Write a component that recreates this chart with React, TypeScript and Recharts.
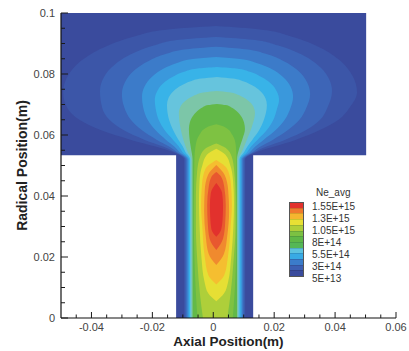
import { ComposedChart, Area, XAxis, YAxis, Legend } from 'recharts';

// each row: [radial y, axial x left, axial x right] of one contour band
type Row = [number, number, number];

const BASE: Row[] = [
  [0, -0.0122, 0.0131],
  [0.0534, -0.0122, 0.0131],
  [0.0534, -0.05, 0.0502],
  [0.1, -0.05, 0.0502],
];

const L1: Row[] = [
  [0, -0.0096, 0.0105], [0.052, -0.0096, 0.0105], [0.0545, -0.0135, 0.0145],
  [0.0562, -0.019, 0.02], [0.0584, -0.027, 0.027], [0.0616, -0.037, 0.035],
  [0.0649, -0.0438, 0.041], [0.069, -0.048, 0.0448], [0.074, -0.0493, 0.0472],
  [0.0794, -0.0477, 0.0457], [0.0849, -0.0426, 0.041], [0.0892, -0.0349, 0.034],
  [0.0924, -0.0256, 0.0253], [0.0946, -0.0148, 0.0153], [0.0957, 0.0009, 0.0009],
];

const L2: Row[] = [
  [0, -0.0092, 0.0102], [0.052, -0.0092, 0.0102], [0.0545, -0.0128, 0.0138],
  [0.0562, -0.0165, 0.0175], [0.0584, -0.0225, 0.0235], [0.0616, -0.0295, 0.0305],
  [0.0649, -0.034, 0.035], [0.069, -0.0365, 0.0375], [0.0744, -0.0372, 0.039],
  [0.0788, -0.036, 0.0378], [0.0833, -0.0321, 0.0339], [0.0868, -0.0263, 0.0281],
  [0.0894, -0.0192, 0.021], [0.0912, -0.011, 0.0128], [0.0921, 0.0009, 0.0009],
];

const L3: Row[] = [
  [0, -0.0088, 0.0098], [0.052, -0.0088, 0.0098], [0.0545, -0.0121, 0.0131],
  [0.0562, -0.0145, 0.0155], [0.0584, -0.0185, 0.0195], [0.0616, -0.0235, 0.0245],
  [0.0649, -0.027, 0.0282], [0.069, -0.0292, 0.0306], [0.0734, -0.03, 0.0318],
  [0.0773, -0.029, 0.0308], [0.0812, -0.0259, 0.0277], [0.0843, -0.0212, 0.023],
  [0.0866, -0.0154, 0.0172], [0.0881, -0.0087, 0.0105], [0.0889, 0.0009, 0.0009],
];

const L4: Row[] = [
  [0, -0.0084, 0.0094], [0.052, -0.0084, 0.0094], [0.0545, -0.0112, 0.0122],
  [0.0562, -0.0128, 0.0138], [0.0584, -0.0155, 0.0165], [0.0616, -0.019, 0.0205],
  [0.0649, -0.0215, 0.0234], [0.069, -0.023, 0.0254], [0.0725, -0.0234, 0.0262],
  [0.0758, -0.0226, 0.0254], [0.0791, -0.0201, 0.0228], [0.0817, -0.0164, 0.019],
  [0.0836, -0.0119, 0.0142], [0.0849, -0.0067, 0.0088], [0.0856, 0.0009, 0.0009],
];

const L5: Row[] = [
  [0, -0.008, 0.009], [0.052, -0.008, 0.009], [0.0545, -0.0102, 0.0112],
  [0.0562, -0.0113, 0.0124], [0.0584, -0.0132, 0.0145], [0.0616, -0.016, 0.0176],
  [0.0649, -0.0179, 0.0197], [0.0685, -0.0189, 0.0209], [0.0715, -0.0192, 0.0216],
  [0.0742, -0.0185, 0.0209], [0.0769, -0.0165, 0.0189], [0.079, -0.0134, 0.0158],
  [0.0807, -0.0096, 0.012], [0.0818, -0.0052, 0.0076], [0.0823, 0.0012, 0.0012],
];

const L6: Row[] = [
  [0, -0.0076, 0.0086], [0.052, -0.0076, 0.0086], [0.0545, -0.0092, 0.0102],
  [0.0562, -0.01, 0.0112], [0.0584, -0.0114, 0.0128], [0.0616, -0.0132, 0.0151],
  [0.0649, -0.0145, 0.0166], [0.0698, -0.0152, 0.0176], [0.0721, -0.0147, 0.0171],
  [0.0744, -0.013, 0.0154], [0.0762, -0.0105, 0.0129], [0.0776, -0.0074, 0.0098],
  [0.0785, -0.0039, 0.0063], [0.079, 0.0012, 0.0012],
];

const L7: Row[] = [
  [0, -0.0072, 0.0082], [0.052, -0.0072, 0.0082], [0.0545, -0.0084, 0.0094],
  [0.0584, -0.0098, 0.011], [0.0625, -0.0108, 0.0126], [0.0672, -0.0113, 0.0137],
  [0.069, -0.0109, 0.0133], [0.0708, -0.0096, 0.012], [0.0722, -0.0077, 0.0101],
  [0.0733, -0.0054, 0.0078], [0.074, -0.0027, 0.0051], [0.0744, 0.0012, 0.0012],
];

const L8: Row[] = [
  [0, -0.0068, 0.0078], [0.052, -0.0068, 0.0078], [0.0555, -0.0073, 0.0085],
  [0.0588, -0.0078, 0.0096], [0.062, -0.008, 0.0104], [0.0641, -0.0077, 0.0101],
  [0.0661, -0.0068, 0.0092], [0.0677, -0.0054, 0.0078], [0.069, -0.0036, 0.006],
  [0.0698, -0.0017, 0.0041], [0.0702, 0.0012, 0.0012],
];

const L9: Row[] = [
  [0, -0.0052, 0.0064], [0.01, -0.0058, 0.0071], [0.02, -0.0062, 0.0075],
  [0.035, -0.0064, 0.0077], [0.045, -0.0063, 0.0076], [0.052, -0.0062, 0.0076],
  [0.0565, -0.0058, 0.0074], [0.06, -0.0046, 0.0063], [0.0625, -0.0022, 0.004],
  [0.0635, 0.001, 0.001],
];

const L10: Row[] = [
  [0, -0.0034, 0.0046], [0.008, -0.0044, 0.0057], [0.018, -0.0052, 0.0066],
  [0.03, -0.0057, 0.0073], [0.04, -0.0057, 0.0073], [0.048, -0.0053, 0.0069],
  [0.053, -0.0043, 0.006], [0.0558, -0.0022, 0.004], [0.0572, 0.001, 0.001],
];

const L11: Row[] = [
  [0.0055, 0.001, 0.001], [0.008, -0.0016, 0.0035], [0.012, -0.0029, 0.0049],
  [0.02, -0.0039, 0.0059], [0.03, -0.0045, 0.0066], [0.038, -0.0047, 0.0068],
  [0.045, -0.0045, 0.0065], [0.05, -0.0036, 0.0056], [0.0535, -0.0021, 0.004],
  [0.0555, 0.001, 0.001],
];

const L12: Row[] = [
  [0.011, 0.001, 0.001], [0.014, -0.0016, 0.0036], [0.02, -0.0028, 0.0048],
  [0.03, -0.0036, 0.0057], [0.037, -0.004, 0.0061], [0.044, -0.0037, 0.0058],
  [0.049, -0.0025, 0.0045], [0.0518, 0.001, 0.001],
];

const L13: Row[] = [
  [0.0174, 0.001, 0.001], [0.021, -0.0015, 0.0035], [0.027, -0.0025, 0.0046],
  [0.035, -0.003, 0.0052], [0.042, -0.0028, 0.0049], [0.047, -0.0017, 0.0037],
  [0.0502, 0.001, 0.001],
];

const L14: Row[] = [
  [0.0223, 0.001, 0.001], [0.026, -0.0012, 0.0032], [0.031, -0.0018, 0.0039],
  [0.037, -0.002, 0.0041], [0.043, -0.0015, 0.0036], [0.0465, -0.0005, 0.0025],
  [0.0479, 0.001, 0.001],
];

const L15: Row[] = [
  [0.0266, 0.001, 0.001], [0.029, -0.0006, 0.0026], [0.033, -0.001, 0.0031],
  [0.037, -0.0011, 0.0032], [0.041, -0.0008, 0.0029], [0.0443, 0.001, 0.001],
];

const LEVELS = [BASE, L1, L2, L3, L4, L5, L6, L7, L8, L9, L10, L11, L12, L13, L14, L15];
const LEVEL_COLORS = [
  '#3a4b9d', '#3c56a8', '#3d65b7', '#3c7bc9', '#3a98dc', '#38b3e8', '#66c4dd', '#7cc6a8',
  '#63b948', '#7ec242', '#aecf3a', '#e6df34', '#f5be30', '#f08a2e', '#e8582f', '#e2312d',
];

const X_TICKS = [
  -0.045, -0.04, -0.035, -0.03, -0.025, -0.02, -0.015, -0.01, -0.005, 0, 0.005, 0.01,
  0.015, 0.02, 0.025, 0.03, 0.035, 0.04, 0.045, 0.05, 0.055, 0.06,
];
const X_LABELS = [-0.04, -0.02, 0, 0.02, 0.04, 0.06];
const Y_TICKS = [
  0, 0.005, 0.01, 0.015, 0.02, 0.025, 0.03, 0.035, 0.04, 0.045, 0.05, 0.055, 0.06,
  0.065, 0.07, 0.075, 0.08, 0.085, 0.09, 0.095, 0.1,
];
const Y_LABELS = [0, 0.02, 0.04, 0.06, 0.08, 0.1];

const LEGEND_LABELS = ['1.55E+15', '1.3E+15', '1.05E+15', '8E+14', '5.5E+14', '3E+14', '5E+13'];
// bottom to top
const LEGEND_COLORS = [
  '#3a4b9d', '#3c5fb2', '#3b7cca', '#38aae4', '#5cc2df', '#55b756', '#5fb847',
  '#7cc142', '#b0cf39', '#e8e034', '#f5b62f', '#ef7a2d', '#e2312d',
];

const FONT = '"Liberation Sans", Arial, sans-serif';

const toData = (rows: Row[]) => rows.map(([y, a, b]) => ({ y, x: [a, b] }));

const XTick = ({ x, y, payload }: any) => {
  const v = payload.value;
  const major = X_LABELS.includes(v);
  return (
    <g>
      <line x1={x} x2={x} y1={y} y2={y - (major ? 6 : 3.5)} stroke="#1a1a1a" />
      {major && (
        <text x={x} y={y + 13} textAnchor="middle" fontSize={11} fill="#444" fontFamily={FONT}>
          {String(v)}
        </text>
      )}
    </g>
  );
};

const YTick = ({ x, y, payload }: any) => {
  const v = payload.value;
  const major = Y_LABELS.includes(v);
  return (
    <g>
      <line x1={x} x2={x + (major ? 7 : 4)} y1={y} y2={y} stroke="#1a1a1a" />
      {major && (
        <text x={x - 6} y={y + 4} textAnchor="end" fontSize={11} fill="#444" fontFamily={FONT}>
          {String(v)}
        </text>
      )}
    </g>
  );
};

const YTitle = ({ viewBox }: any) => {
  const cx = viewBox.x + 22;
  const cy = viewBox.y + viewBox.height / 2;
  return (
    <text x={cx} y={cy} transform={`rotate(-90 ${cx} ${cy})`} textAnchor="middle" dominantBaseline="central"
      fontSize={14} fontWeight="bold" fill="#222" fontFamily={FONT}>
      Radical Position(m)
    </text>
  );
};

const XTitle = ({ viewBox }: any) => (
  <text x={viewBox.x + viewBox.width / 2} y={viewBox.y + 28} textAnchor="middle"
    fontSize={13.5} fontWeight="bold" fill="#222" fontFamily={FONT}>
    Axial Position(m)
  </text>
);

const ColorBar = () => (
  <div style={{ position: 'relative', width: 100, height: 100, fontFamily: FONT, color: '#333', fontSize: 10 }}>
    <div style={{ position: 'absolute', left: 33, top: 2, lineHeight: '12px' }}>Ne_avg</div>
    <div style={{
      position: 'absolute', left: 6, top: 17, width: 15, height: 75, boxSizing: 'border-box',
      border: '1px solid #555', display: 'flex', flexDirection: 'column-reverse',
    }}>
      {LEGEND_COLORS.map((c, i) => (
        <div key={i} style={{ flex: 1, background: c, borderTop: i < LEGEND_COLORS.length - 1 ? '1px solid rgba(0,0,0,0.12)' : 'none' }} />
      ))}
    </div>
    <div style={{ position: 'absolute', left: 29, top: 16, lineHeight: '12px', whiteSpace: 'nowrap' }}>
      {LEGEND_LABELS.map(l => <div key={l}>{l}</div>)}
    </div>
  </div>
);

export default function App() {
  return (
    <>
      <style>{'body{margin:0}'}</style>
      <ComposedChart width={409} height={351} layout="vertical" margin={{ top: 13, right: 13, bottom: 0, left: 0 }}>
        {LEVELS.map((rows, i) => (
          <Area
            key={i}
            data={toData(rows)}
            dataKey="x"
            type={i === 0 ? 'linear' : 'monotone'}
            stroke="none"
            fill={LEVEL_COLORS[i]}
            fillOpacity={1}
            dot={false}
            activeDot={false}
            isAnimationActive={false}
          />
        ))}
        <XAxis type="number" dataKey="x" domain={[-0.05, 0.06]} ticks={X_TICKS} interval={0}
          allowDataOverflow height={33} tickSize={0} tickMargin={0} tick={<XTick />}
          axisLine={{ stroke: '#111', strokeWidth: 1.2 }} label={{ content: XTitle }} />
        <YAxis type="number" dataKey="y" domain={[0, 0.1]} ticks={Y_TICKS} interval={0} reversed
          allowDataOverflow width={61} tickSize={0} tickMargin={0} tick={<YTick />}
          axisLine={{ stroke: '#111', strokeWidth: 1.2 }} label={{ content: YTitle }} />
        <Legend verticalAlign="middle" content={() => <ColorBar />}
          wrapperStyle={{ left: 283, top: 185, width: 100, height: 100 }} />
      </ComposedChart>
    </>
  );
}
